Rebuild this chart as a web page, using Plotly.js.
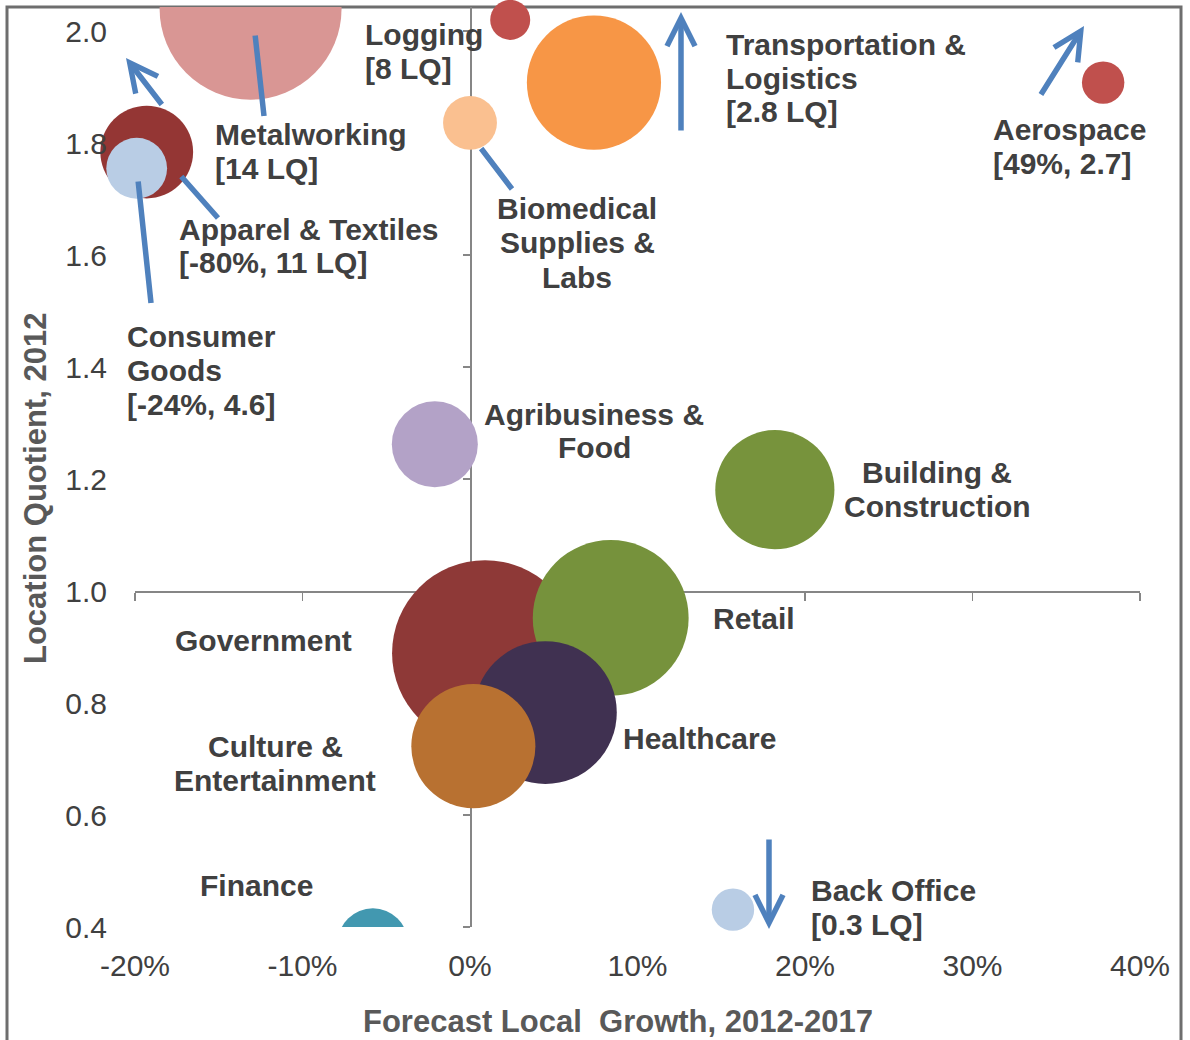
<!DOCTYPE html>
<html><head><meta charset="utf-8">
<script src="https://cdn.plot.ly/plotly-3.0.1.min.js"></script>
<style>html,body{margin:0;padding:0;background:#fff}</style>
</head><body><div id="chart" style="width:1190px;height:1040px"></div>
<script>
// ---------------- DATA ----------------
const industries = ['Metalworking','Finance','Logging','Transportation & Logistics','Biomedical Supplies & Labs','Aerospace','Apparel & Textiles','Consumer Goods','Agribusiness & Food','Building & Construction','Government','Retail','Healthcare','Culture & Entertainment','Back Office'];
const growth = [-0.131, -0.058, 0.024, 0.074, 0.000, 0.378, -0.193, -0.199, -0.021, 0.182, 0.009, 0.084, 0.045, 0.002, 0.157];
const locationQuotient = [2.04, 0.371, 2.02, 1.908, 1.836, 1.908, 1.784, 1.755, 1.262, 1.181, 0.889, 0.952, 0.783, 0.723, 0.431];
const employment = [331, 49, 16, 180, 29, 18, 86, 37, 74, 142, 346, 243, 204, 154, 18];
const labelLines = [
  ['Metalworking','[14 LQ]'],
  ['Finance'],
  ['Logging','[8 LQ]'],
  ['Transportation &','Logistics','[2.8 LQ]'],
  ['Biomedical','Supplies &','Labs'],
  ['Aerospace','[49%, 2.7]'],
  ['Apparel & Textiles','[-80%, 11 LQ]'],
  ['Consumer','Goods','[-24%, 4.6]'],
  ['Agribusiness &','Food'],
  ['Building &','Construction'],
  ['Government'],
  ['Retail'],
  ['Healthcare'],
  ['Culture &','Entertainment'],
  ['Back Office','[0.3 LQ]']
];
const xTickVals = [-0.2, -0.1, 0, 0.1, 0.2, 0.3, 0.4];
const xTickText = ['-20%','-10%','0%','10%','20%','30%','40%'];
const yTickVals = [0.4, 0.6, 0.8, 1.0, 1.2, 1.4, 1.6, 1.8, 2.0];
const yTickText = ['0.4','0.6','0.8','1.0','1.2','1.4','1.6','1.8','2.0'];
const xTitle = 'Forecast Local  Growth, 2012-2017';
const yTitle = 'Location Quotient, 2012';

// ---------------- STYLE ----------------
const colorOf = {
  'Metalworking':'#D99694','Finance':'#4298B0','Logging':'#C0504D','Transportation & Logistics':'#F79646',
  'Biomedical Supplies & Labs':'#FAC090','Aerospace':'#C0504D','Apparel & Textiles':'#943634',
  'Consumer Goods':'#B9CDE5','Agribusiness & Food':'#B3A2C7','Building & Construction':'#77933C',
  'Government':'#8E3937','Retail':'#76923C','Healthcare':'#403151','Culture & Entertainment':'#B87131',
  'Back Office':'#B9CDE5'
};
const clipped = ['Metalworking','Finance'];
const FONT = 'Liberation Sans, Arial, sans-serif';
const W = 1190, H = 1040, ML = 135, MR = 50, MT = 7, MB = 113;
const PW = W - ML - MR, PH = H - MT - MB;
const YMAX = 2.043;
const fx = px => (px - ML) / PW;
const fy = py => (H - MB - py) / PH;

function bubbleTrace(idx, clip, xa, ya) {
  return {
    type: 'scatter', mode: 'markers', xaxis: xa, yaxis: ya,
    x: idx.map(i => growth[i]), y: idx.map(i => locationQuotient[i]),
    text: idx.map(i => industries[i]),
    marker: { size: idx.map(i => employment[i]), sizemode: 'area', sizeref: 0.02,
              color: idx.map(i => colorOf[industries[i]]), line: { width: 0 }, opacity: 1 },
    cliponaxis: clip, hoverinfo: 'text', showlegend: false
  };
}
const idxAll = industries.map((_, i) => i);
const traces = [
  bubbleTrace(idxAll.filter(i => !clipped.includes(industries[i])), false, 'x', 'y'),
  bubbleTrace(idxAll.filter(i => clipped.includes(industries[i])), true, 'x2', 'y2')
];

// label placement (pixel positions of first line; align)
const labelPlace = {
  'Metalworking': [213, 135, 'left'],
  'Finance': [198, 885, 'left'],
  'Logging': [363, 34, 'left'],
  'Transportation & Logistics': [724, 44, 'left'],
  'Biomedical Supplies & Labs': [577, 209, 'center'],
  'Aerospace': [991, 130, 'left'],
  'Apparel & Textiles': [177, 229, 'left'],
  'Consumer Goods': [125, 336, 'left'],
  'Agribusiness & Food': [594, 414, 'center'],
  'Building & Construction': [937, 472, 'center'],
  'Government': [173, 640, 'left'],
  'Retail': [711, 619, 'left'],
  'Healthcare': [621, 738, 'left'],
  'Culture & Entertainment': [275, 746, 'center'],
  'Back Office': [809, 890, 'left']
};
const annotations = [];
industries.forEach((name, i) => {
  const [px, py, al] = labelPlace[name];
  labelLines[i].forEach((line, k) => {
    annotations.push({
      xref: 'paper', yref: 'paper', x: fx(px), y: fy(py + 34 * k),
      xanchor: al, yanchor: 'middle', showarrow: false, text: line,
      font: { family: FONT, size: 30, color: '#404040', weight: 'bold' }
    });
  });
});
// axis titles
annotations.push({
  xref: 'paper', yref: 'paper', x: fx(618), y: fy(1021), xanchor: 'center', yanchor: 'middle',
  showarrow: false, text: xTitle, font: { family: FONT, size: 31, color: '#595959', weight: 'bold' }
});
annotations.push({
  xref: 'paper', yref: 'paper', x: fx(35), y: fy(489), xanchor: 'center', yanchor: 'middle',
  showarrow: false, text: yTitle, textangle: -90, font: { family: FONT, size: 31, color: '#595959', weight: 'bold' }
});
// arrows [headX, headY, tailX, tailY, hasHead]
const arrows = [
  [126, 58, 163, 106, true],
  [681, 12, 681, 132, true],
  [1084, 26, 1040, 96, true],
  [769, 929, 769, 838, true],
  [264, 116, 255, 34, false],
  [218, 218, 180, 175, false],
  [151, 303, 138, 180, false],
  [512, 189, 480, 147, false]
];
arrows.forEach(a => {
  annotations.push({
    xref: 'paper', yref: 'paper', x: fx(a[0]), y: fy(a[1]), ax: a[2] - a[0], ay: a[3] - a[1],
    text: '', showarrow: true, arrowhead: a[4] ? 5 : 0, arrowsize: 1.0, arrowwidth: 5.5,
    arrowcolor: '#4F81BD', standoff: 0, startstandoff: 0
  });
});

const axisLineColor = '#868686';
const layout = {
  width: W, height: H, margin: { l: ML, r: MR, t: MT, b: MB },
  paper_bgcolor: '#ffffff', plot_bgcolor: 'rgba(0,0,0,0)', showlegend: false,
  font: { family: FONT, color: '#404040' },
  xaxis: {
    range: [-0.2, 0.4], domain: [0, 1], tickvals: xTickVals, ticktext: xTickText,
    showline: false, showgrid: false, zeroline: false, ticks: '', ticklabelstandoff: 18,
    tickfont: { family: FONT, size: 30, color: '#404040' }, automargin: false
  },
  yaxis: {
    range: [0.4, YMAX], domain: [0, 1], tickvals: yTickVals, ticktext: yTickText,
    showline: false, showgrid: false, zeroline: false, ticks: '', ticklabelstandoff: 27,
    tickfont: { family: FONT, size: 30, color: '#404040' }, automargin: false
  },
  xaxis2: {
    overlaying: 'x', anchor: 'free', position: (1.0 - 0.4) / (YMAX - 0.4), range: [-0.2, 0.4],
    tickvals: xTickVals, showticklabels: false, showline: true, linecolor: axisLineColor, linewidth: 1.5,
    ticks: 'outside', ticklen: 8, tickwidth: 1.5, tickcolor: axisLineColor,
    showgrid: false, zeroline: false, layer: 'below traces'
  },
  yaxis2: {
    overlaying: 'y', anchor: 'free', position: 0.2 / 0.6, range: [0.4, YMAX],
    tickvals: yTickVals, showticklabels: false, showline: true, linecolor: axisLineColor, linewidth: 1.5,
    ticks: 'outside', ticklen: 7, tickwidth: 1.5, tickcolor: axisLineColor,
    showgrid: false, zeroline: false, layer: 'below traces'
  },
  shapes: [{
    type: 'rect', xref: 'paper', yref: 'paper', layer: 'below',
    x0: fx(7), x1: fx(1181), y0: fy(1060), y1: fy(7),
    line: { color: '#6E6E6E', width: 3 }, fillcolor: 'rgba(0,0,0,0)'
  }],
  annotations: annotations
};
Plotly.newPlot('chart', traces, layout, { displayModeBar: false, staticPlot: true });
</script></body></html>
